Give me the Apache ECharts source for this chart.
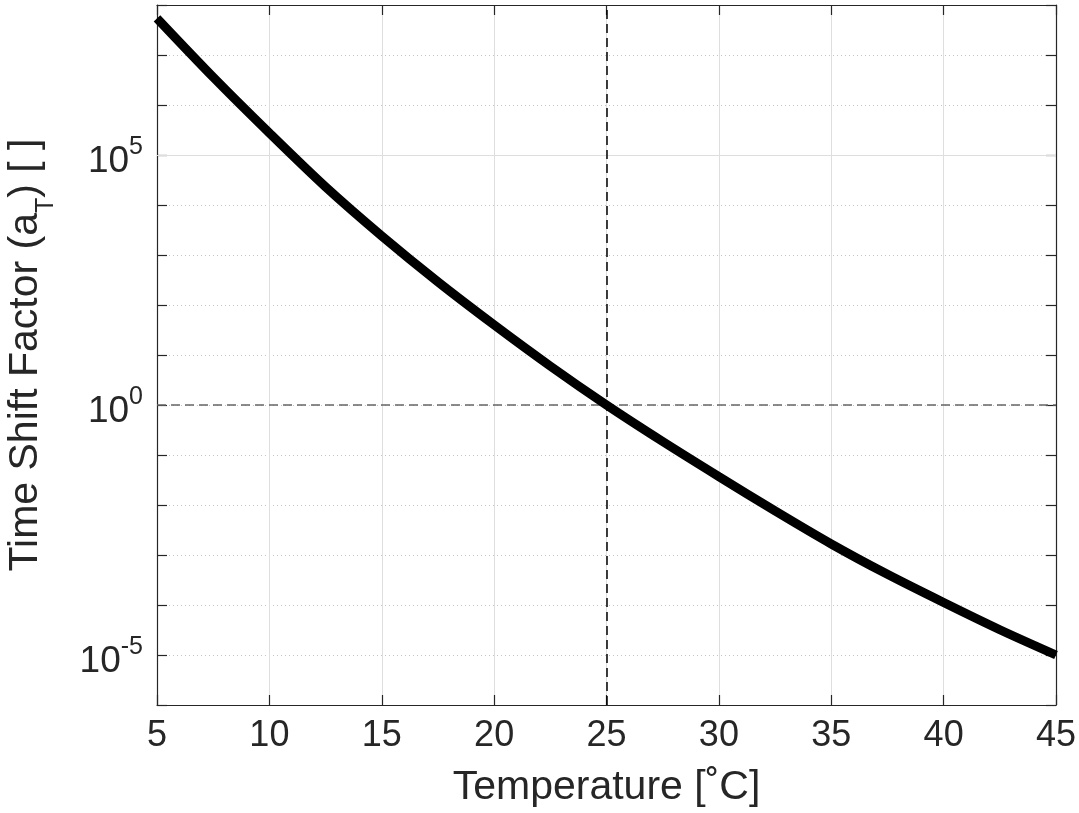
<!DOCTYPE html>
<html>
<head>
    <meta charset="utf-8">
    <title>Time Shift Factor</title>
    <script src="https://cdn.jsdelivr.net/npm/echarts@6/dist/echarts.min.js"></script>
    <style>
        html, body { margin: 0; padding: 0; background: #fff; }
    </style>
</head>
<body>
    <div id="main" style="width: 1079px;height:813px;"></div>
    <script type="text/javascript">

    // temperature [C] and shift factor
    var temps = [5, 7.5, 10, 12.5, 15, 17.5, 20, 22.5, 25, 27.5, 30, 32.5, 35, 37.5, 40, 42.5, 45];
    var shiftFactor = [5.4e7, 3.6e6, 2.75e5, 2.3e4, 2.4e3, 290, 40, 6.0, 1, 0.186, 0.037, 0.0076, 0.00166, 4.1e-4, 1.12e-4, 3.2e-5, 1e-5];

    var xTicks = [5, 10, 15, 20, 25, 30, 35, 40, 45];
    var labelDecades = [-5, 0, 5];
    var majorLines = [1e-5, 1e5];
    var refTemp = 25;
    var refShift = 1;

    var ink = '#262626';
    var font = '"Liberation Sans", Arial, Helvetica, sans-serif';

    var myChart = echarts.init(document.getElementById('main'));

    var data = [];
    for (var i = 0; i < temps.length; i++) {
        data.push([temps[i], shiftFactor[i]]);
    }

    var hLines = [];
    for (var i = 0; i < majorLines.length; i++) {
        hLines.push({ yAxis: majorLines[i], lineStyle: { color: '#dedede', type: 'solid', width: 1 } });
    }
    hLines.push({ yAxis: refShift, lineStyle: { color: '#666666', type: [9, 5], width: 1.5 } });
    hLines.push({ xAxis: refTemp, lineStyle: { color: '#000000', type: [9, 5], width: 1.5 } });

    function yLabel(v) {
        var e = Math.round(Math.log10(v));
        if (labelDecades.indexOf(e) < 0) return '';
        return '{base|10}{sup|' + e + '}';
    }

    var xAxisBase = {
        type: 'value',
        min: xTicks[0],
        max: xTicks[xTicks.length - 1],
        interval: 5,
        axisLine: { lineStyle: { color: ink, width: 1.2 } },
        axisTick: { inside: true, length: 10, lineStyle: { color: ink, width: 1.2 } }
    };

    var yAxisBase = {
        type: 'log',
        logBase: 10,
        min: 1e-6,
        max: 1e8,
        interval: 1,
        axisLine: { show: true, lineStyle: { color: ink, width: 1.2 } },
        axisTick: { show: true, inside: true, length: 10, lineStyle: { color: ink, width: 1.2 } }
    };

    var option = {
        animation: false,
        backgroundColor: '#ffffff',
        grid: { left: 157, right: 23, top: 5, bottom: 108, containLabel: false, outerBoundsMode: 'none' },
        xAxis: [
            echarts.util.merge({
                position: 'bottom',
                axisLabel: { fontSize: 36, color: ink, fontFamily: font, margin: 13,
                    formatter: function (v) { return xTicks.indexOf(v) >= 0 ? String(v) : ''; } },
                splitLine: { show: true, lineStyle: { color: '#dedede', width: 1 } },
                name: 'Temperature [\u02daC]',
                nameLocation: 'middle',
                nameGap: 62,
                nameTextStyle: { fontSize: 41, color: ink, fontFamily: font }
            }, xAxisBase, true),
            echarts.util.merge({
                position: 'top',
                axisLabel: { show: false },
                splitLine: { show: false }
            }, xAxisBase, true)
        ],
        yAxis: [
            echarts.util.merge({
                position: 'left',
                axisLabel: {
                    formatter: yLabel,
                    color: ink,
                    fontFamily: font,
                    fontSize: 37,
                    margin: 14,
                    rich: {
                        base: { fontSize: 37, lineHeight: 36, padding: [14, 0, 0, 0], color: ink, fontFamily: font },
                        sup: { fontSize: 25, lineHeight: 25, padding: [5, 0, 20, 0], color: ink, fontFamily: font }
                    }
                },
                splitLine: { show: true, lineStyle: { color: '#c4c4c4', type: [1, 3], width: 1 } },
                name: 'Time Shift Factor (a{t|T}) [ ]',
                nameLocation: 'middle',
                nameGap: 100,
                nameTextStyle: {
                    fontSize: 41, color: ink, fontFamily: font, lineHeight: 62,
                    rich: {
                        t: { fontSize: 25, lineHeight: 25, padding: [40, 0, 0, 0], color: ink, fontFamily: font }
                    }
                }
            }, yAxisBase, true),
            echarts.util.merge({
                position: 'right',
                axisLabel: { show: false },
                splitLine: { show: false }
            }, yAxisBase, true)
        ],
        series: [
            {
                type: 'line',
                data: data,
                smooth: 0.3,
                showSymbol: false,
                lineStyle: { color: '#000000', width: 9 },
                z: 3,
                markLine: {
                    silent: true,
                    symbol: ['none', 'none'],
                    label: { show: false },
                    animation: false,
                    data: hLines,
                    z: 1
                }
            }
        ]
    };

    myChart.setOption(option);

    </script>
</body>
</html>
